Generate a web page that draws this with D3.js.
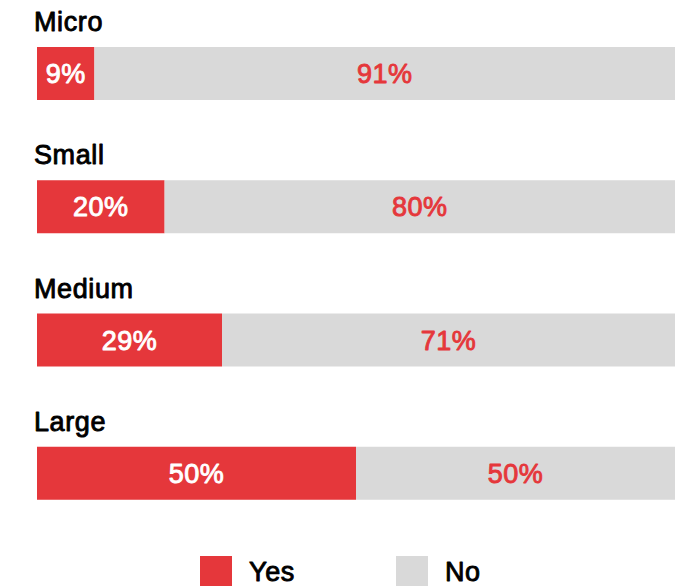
<!DOCTYPE html>
<html>
<head>
<meta charset="utf-8">
<script src="https://cdn.jsdelivr.net/npm/d3@7"></script>
<style>
  html, body { margin: 0; padding: 0; background: #fff; }
  svg { display: block; font-family: "Liberation Sans", Arial, sans-serif; }
  /* medium-weight look: regular face with a thin outline of the same colour */
  .medium { font-weight: 400; stroke-width: 0.9px; paint-order: stroke; stroke-linejoin: round; }
</style>
</head>
<body>
<svg id="chart" width="682" height="586"></svg>
<script>
// Share of firms answering Yes / No, by firm size
const categories = ["Micro", "Small", "Medium", "Large"];
const yesValues = [9, 20, 29, 50];
const noValues = [91, 80, 71, 50];
const seriesNames = ["Yes", "No"];
const seriesColors = ["#e5373b", "#d9d9d9"];

const width = 682, height = 586;
const margin = { left: 37, right: 7 };

const svg = d3.select("#chart");

const x = d3.scaleLinear()
  .domain([0, 100])
  .range([margin.left, width - margin.right]);

// Each band holds a title line plus a bar
const band = d3.scaleBand()
  .domain(categories)
  .range([0, 533])
  .paddingInner(0);

const barTop = 47;      // offset of bar inside its band
const barHeight = 53;

const rows = categories.map((c, i) => ({
  category: c,
  parts: [
    { key: "Yes", start: 0, end: yesValues[i], value: yesValues[i] },
    { key: "No", start: yesValues[i], end: yesValues[i] + noValues[i], value: noValues[i] }
  ]
}));

const color = d3.scaleOrdinal().domain(seriesNames).range(seriesColors);

const g = svg.selectAll("g.row")
  .data(rows)
  .join("g")
  .attr("class", "row")
  .attr("transform", d => `translate(0,${band(d.category)})`);

g.append("text")
  .attr("class", "medium")
  .attr("x", margin.left - 3)
  .attr("y", barTop - 16)
  .attr("font-size", 27)
  .attr("letter-spacing", 0.6)
  .attr("fill", "#000")
  .attr("stroke", "#000")
  .text(d => d.category);

const seg = g.selectAll("g.seg")
  .data(d => d.parts)
  .join("g")
  .attr("class", "seg");

seg.append("rect")
  .attr("x", d => x(d.start))
  .attr("y", barTop)
  .attr("width", d => x(d.end) - x(d.start))
  .attr("height", barHeight)
  .attr("fill", d => color(d.key));

seg.append("text")
  .attr("class", "medium")
  .attr("x", d => (x(d.start) + x(d.end)) / 2)
  .attr("y", barTop + barHeight / 2 + 9.5)
  .attr("text-anchor", "middle")
  .attr("font-size", 27)
  .attr("letter-spacing", 0.5)
  .attr("fill", d => d.key === "Yes" ? "#fff" : seriesColors[0])
  .attr("stroke", d => d.key === "Yes" ? "#fff" : seriesColors[0])
  .text(d => d.value + "%");

// Legend
const legendX = [200, 396];
const legend = svg.selectAll("g.legend")
  .data(seriesNames)
  .join("g")
  .attr("class", "legend")
  .attr("transform", (d, i) => `translate(${legendX[i]},556)`);

legend.append("rect")
  .attr("width", 32)
  .attr("height", 32)
  .attr("fill", d => color(d));

legend.append("text")
  .attr("class", "medium")
  .attr("x", 49)
  .attr("y", 25)
  .attr("font-size", 27)
  .attr("letter-spacing", 0.6)
  .attr("fill", "#000")
  .attr("stroke", "#000")
  .text(d => d);
</script>
</body>
</html>
